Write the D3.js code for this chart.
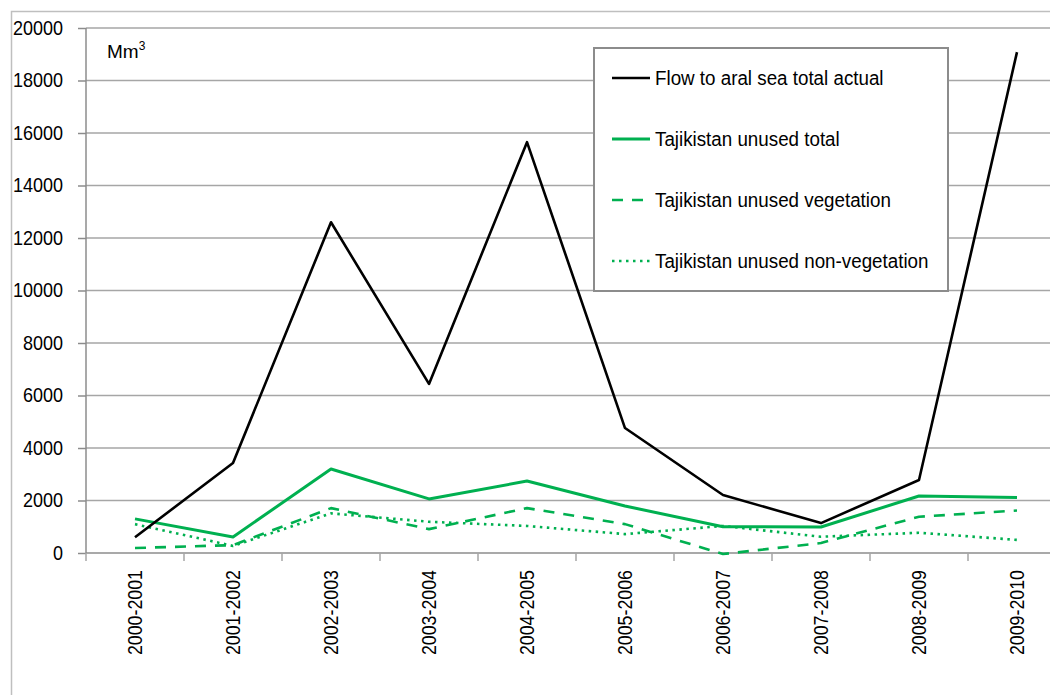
<!DOCTYPE html>
<html><head><meta charset="utf-8">
<script src="https://cdn.jsdelivr.net/npm/d3@7"></script>
<style>body{margin:0;background:#fff}svg{display:block}</style>
</head><body>
<svg id="c" width="1050" height="695"></svg>
<script>
const categories = ["2000-2001","2001-2002","2002-2003","2003-2004","2004-2005","2005-2006","2006-2007","2007-2008","2008-2009","2009-2010"];
const flowAral = [600, 3430, 12600, 6440, 15650, 4760, 2210, 1140, 2780, 19080];
const tajTotal = [1300, 610, 3200, 2060, 2740, 1790, 1000, 990, 2170, 2110];
const tajVeg = [190, 300, 1710, 910, 1710, 1100, -40, 380, 1380, 1620];
const tajNonVeg = [1100, 270, 1510, 1190, 1030, 720, 1030, 620, 770, 500];
const yTicks = [0,2000,4000,6000,8000,10000,12000,14000,16000,18000,20000];
const seriesNames = ["Flow to aral sea total actual","Tajikistan unused total","Tajikistan unused vegetation","Tajikistan unused non-vegetation"];

(function(){
const svg = d3.select("#c");
const green = "#00b050";
const font = "Liberation Sans, Arial, sans-serif";
const pLeft = 86, pTop = 28, pBottom = 553, pRight = 1066;
const x = d3.scaleBand().domain(categories).range([pLeft, pRight]).padding(0);
const y = d3.scaleLinear().domain([0, 20000]).range([pBottom, pTop]);
const cx = c => x(c) + x.bandwidth()/2;

// outer frame
svg.append("path").attr("d", "M11.5,695 V11.5 H1050").attr("fill","none").attr("stroke","#bfbfbf").attr("stroke-width",1.5);

// gridlines
svg.append("g").selectAll("line").data(yTicks.filter(d=>d>0)).join("line")
  .attr("x1", pLeft).attr("x2", 1050).attr("y1", d=>y(d)).attr("y2", d=>y(d))
  .attr("stroke", "#a6a6a6").attr("stroke-width", 1.5);

// y axis
const yAxis = d3.axisLeft(y).tickValues(yTicks).tickSize(8).tickFormat(d3.format("d"));
const gy = svg.append("g").attr("transform", `translate(${pLeft},0)`).call(yAxis);
gy.select(".domain").attr("stroke","#8c8c8c").attr("stroke-width",1.5).attr("d", `M0,${pTop}V${pBottom}`);
gy.selectAll(".tick line").attr("stroke","#8c8c8c").attr("stroke-width",1.5);
gy.selectAll(".tick text").attr("font-family",font).attr("font-size",20).attr("fill","#000")
  .attr("x",0).attr("transform","translate(-23,0) scale(0.9,1)");

// x axis
const xAxis = d3.axisBottom(x).tickSize(0).tickFormat(d=>d);
const gx = svg.append("g").attr("transform", `translate(0,${pBottom})`).call(xAxis);
gx.select(".domain").attr("stroke","#8c8c8c").attr("stroke-width",1.5).attr("d", `M${pLeft},0H1050`);
gx.selectAll(".tick text").attr("font-family",font).attr("font-size",20).attr("fill","#000")
  .attr("transform","rotate(-90) translate(-17,0) scale(0.89,1)").attr("text-anchor","end").attr("x",0).attr("y",0).attr("dy","0.35em");
// boundary tick marks
svg.append("g").selectAll("line").data(categories).join("line")
  .attr("x1", d=>x(d)).attr("x2", d=>x(d)).attr("y1", pBottom).attr("y2", pBottom+8)
  .attr("stroke","#a6a6a6").attr("stroke-width",1.5);

// lines
const line = data => d3.line().x((d,i)=>cx(categories[i])).y(d=>y(d))(data);
const styles = [
  {data: flowAral, color:"#000", w:2.6, dash:null},
  {data: tajTotal, color:green, w:3, dash:null},
  {data: tajVeg, color:green, w:2.6, dash:"11,9"},
  {data: tajNonVeg, color:green, w:2.6, dash:"2.5,4.5"}
];
[3,2,1,0].forEach(i => {
  const s = styles[i];
  svg.append("path").attr("d", line(s.data)).attr("fill","none").attr("stroke",s.color)
    .attr("stroke-width",s.w).attr("stroke-dasharray",s.dash).attr("stroke-linejoin","round");
});

// unit label
const ut = svg.append("text").attr("x",107).attr("y",58).attr("font-family",font).attr("font-size",19).attr("fill","#000");
ut.append("tspan").text("Mm");
ut.append("tspan").attr("font-size",12).attr("dy",-8).text("3");

// legend
const lg = svg.append("g");
lg.append("rect").attr("x",594).attr("y",48).attr("width",354).attr("height",243).attr("fill","#fff").attr("stroke","#8c8c8c").attr("stroke-width",2);
const rowY = [78, 139, 200, 261];
seriesNames.forEach((n,i) => {
  const s = styles[i];
  lg.append("line").attr("x1",612).attr("x2",650).attr("y1",rowY[i]).attr("y2",rowY[i])
    .attr("stroke",s.color).attr("stroke-width",s.w).attr("stroke-dasharray", s.dash);
  lg.append("text").attr("transform",`translate(655,${rowY[i]}) scale(0.895,1)`).attr("dy","0.35em")
    .attr("font-family",font).attr("font-size",21).attr("fill","#000").text(n);
});
})();
</script>
</body></html>
